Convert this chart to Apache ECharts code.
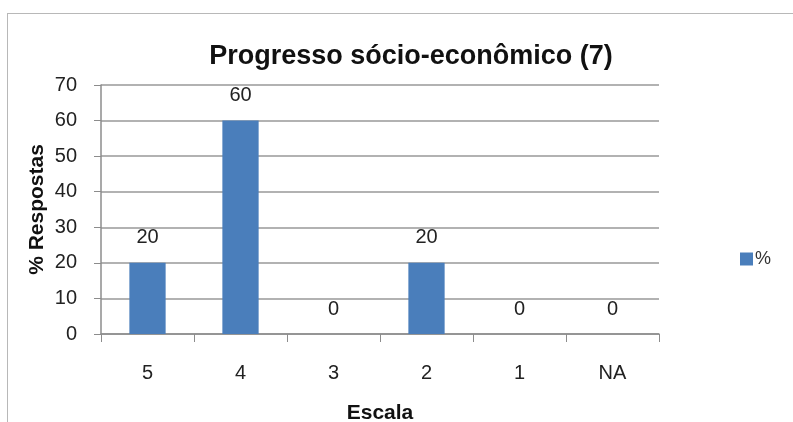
<!DOCTYPE html>
<html>
<head>
<meta charset="utf-8">
<script src="https://cdn.jsdelivr.net/npm/echarts@6/dist/echarts.min.js"></script>
<style>
  html, body { margin: 0; padding: 0; background: #fff; }
  #frame { position: absolute; left: 0; top: 0; width: 793px; height: 422px; }
  #border { position: absolute; left: 7px; top: 13px; width: 786px; height: 409px;
    border-left: 1px solid #b8b8b8; border-top: 1px solid #b8b8b8; }
  #chart { position: absolute; left: 0; top: 0; width: 793px; height: 422px; }
</style>
</head>
<body>
<div id="frame">
  <div id="border"></div>
  <div id="chart"></div>
</div>
<script>
// categorias da escala
const categories = ["5", "4", "3", "2", "1", "NA"];
// % de respostas
const values = [20, 60, 0, 20, 0, 0];
const seriesName = "%";

const myChart = echarts.init(document.getElementById("chart"));

const font = "Liberation Sans";

const option = {
  animation: false,
  title: {
    text: "Progresso sócio-econômico (7)",
    left: 406,
    textAlign: "center",
    top: 38,
    textStyle: { fontFamily: font, fontSize: 27, fontWeight: "bold", color: "#111" },
  },
  legend: {
    left: 735,
    top: 245,
    itemWidth: 13,
    itemHeight: 13,
    itemGap: 4,
    icon: "rect",
    textStyle: { fontFamily: font, fontSize: 18, color: "#333", padding: [0, 0, 0, -3] },
    data: [seriesName],
  },
  grid: { left: 101, right: 134, top: 85, bottom: 88, containLabel: false, outerBoundsMode: "none" },
  xAxis: {
    type: "category",
    data: categories,
    name: "Escala",
    nameLocation: "middle",
    nameGap: 69,
    nameMoveOverlap: false,
    nameTextStyle: { fontFamily: font, fontSize: 21, fontWeight: "bold", color: "#111" },
    axisLine: { lineStyle: { color: "#8c8c8c", width: 1.5 } },
    axisTick: { show: true, length: 8, lineStyle: { color: "#8c8c8c" } },
    axisLabel: { fontFamily: font, fontSize: 20, color: "#222", margin: 29 },
  },
  yAxis: {
    type: "value",
    min: 0,
    max: 70,
    interval: 10,
    name: "% Respostas",
    nameLocation: "middle",
    nameGap: 53,
    nameMoveOverlap: false,
    nameTextStyle: { fontFamily: font, fontSize: 21, fontWeight: "bold", color: "#111" },
    axisLine: { show: true, lineStyle: { color: "#8c8c8c", width: 1.5 } },
    axisTick: { show: true, length: 7, lineStyle: { color: "#8c8c8c" } },
    axisLabel: { fontFamily: font, fontSize: 20, color: "#222", margin: 24 },
    splitLine: { lineStyle: { color: "#999", width: 1.5 } },
  },
  series: [
    {
      name: seriesName,
      type: "bar",
      data: values,
      barWidth: "39%",
      itemStyle: { color: "#4a7ebb" },
      label: {
        show: true,
        position: "top",
        distance: 15,
        fontFamily: font,
        fontSize: 20,
        color: "#222",
      },
    },
  ],
};

myChart.setOption(option);
</script>
</body>
</html>
